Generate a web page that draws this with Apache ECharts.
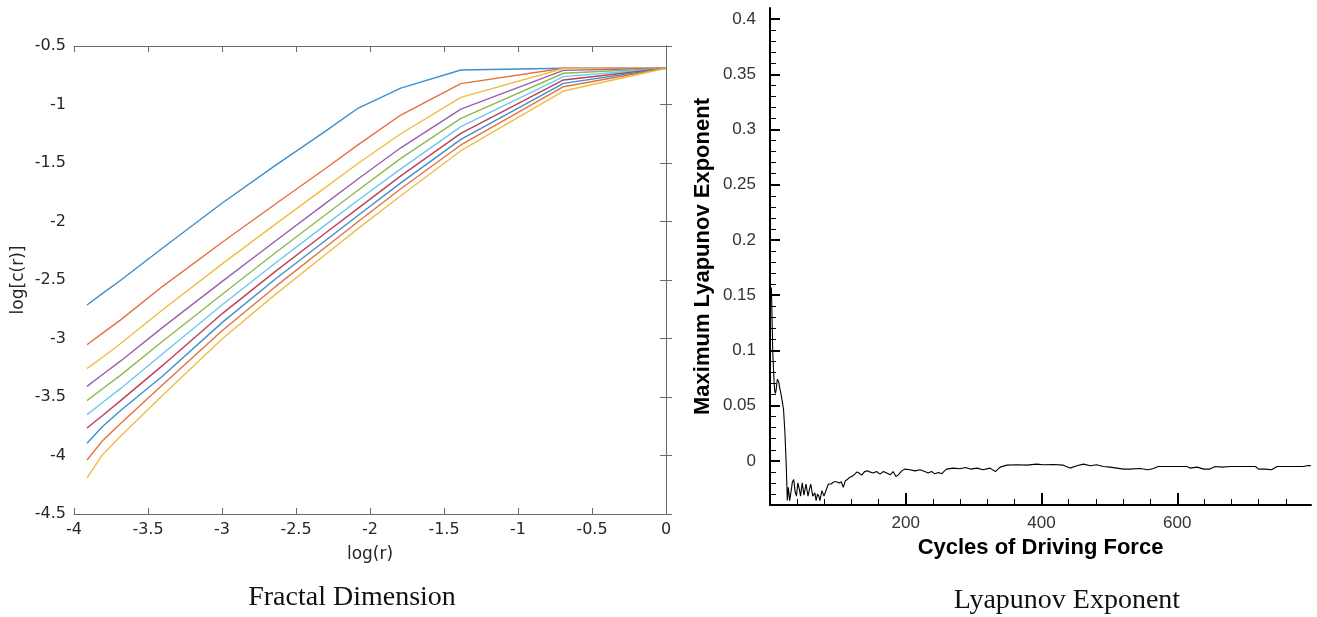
<!DOCTYPE html>
<html>
<head>
<meta charset="utf-8">
<script src="https://cdn.jsdelivr.net/npm/echarts@6/dist/echarts.min.js"></script>
<style>html,body{margin:0;padding:0;background:#fff}#c{width:1317px;height:617px}</style>
</head>
<body>
<div id="c"></div>
<script>
// ---- Fractal dimension data: log(r) vs log[c(r)] ----
const logR = [-3.912, -3.807, -3.689, -3.401, -2.996, -2.639, -2.303, -2.079, -1.792, -1.386, -0.693, 0];
const fd1  = [-2.714, -2.614, -2.506, -2.226, -1.840, -1.520, -1.230, -1.030, -0.860, -0.705, -0.690, -0.690];
const fd2  = [-3.053, -2.954, -2.845, -2.554, -2.175, -1.850, -1.549, -1.343, -1.090, -0.822, -0.690, -0.690];
const fd3  = [-3.258, -3.160, -3.047, -2.754, -2.360, -2.022, -1.710, -1.502, -1.250, -0.939, -0.692, -0.690];
const fd4  = [-3.409, -3.308, -3.196, -2.905, -2.510, -2.167, -1.847, -1.635, -1.370, -1.039, -0.708, -0.690];
const fd5  = [-3.531, -3.430, -3.317, -3.024, -2.620, -2.267, -1.944, -1.731, -1.460, -1.118, -0.733, -0.690];
const fd6  = [-3.651, -3.547, -3.431, -3.130, -2.710, -2.355, -2.031, -1.816, -1.550, -1.189, -0.762, -0.690];
const fd7  = [-3.765, -3.658, -3.535, -3.230, -2.785, -2.426, -2.101, -1.886, -1.610, -1.247, -0.790, -0.690];
const fd8  = [-3.896, -3.753, -3.620, -3.320, -2.860, -2.492, -2.164, -1.947, -1.670, -1.298, -0.819, -0.690];
const fd9  = [-4.038, -3.873, -3.730, -3.395, -2.930, -2.557, -2.222, -2.000, -1.720, -1.346, -0.848, -0.690];
const fd10 = [-4.192, -3.993, -3.840, -3.485, -3.000, -2.623, -2.284, -2.059, -1.780, -1.395, -0.885, -0.690];
const fdSeries = [fd1, fd2, fd3, fd4, fd5, fd6, fd7, fd8, fd9, fd10];
const fdColors = ['#3a90d0', '#e4703f', '#f0bc44', '#9a60ad', '#8cba52', '#6cc8f0', '#bb4058', '#3a90d0', '#e4703f', '#f0bc44'];

// ---- Lyapunov exponent data ----
const lyaCycles = [2,3,4,5,6,7,8,9,10,11,12,13,14,16,18,20,22,24,25.5,27,29,31,33,35,37,39,41,43,45,47.5,50,53,56,58,60,63,66,68,70,72,73.5,76.5,79.5,83,86,90,94,98,102,105,108,111,114,117,121,125,128,131,135,139,143,147,152,157,162,167,172,177,181.5,185.5,189,194,199,206,213.5,221,228,233,238,243,248,253,256,260,270,280,288,295,305,314,324,332,339,349,364,378,393,403,418,432,442,452,462,472,481,491,501,511,521,530,545,557,565,572,590,604,614,619,629,639,648,656,666,678,698,715,720,730,739,747,766,786,793,797];
const lyaValues = [0.157,0.130,0.100,0.085,0.072,0.063,0.061,0.064,0.070,0.074,0.073,0.071,0.067,0.061,0.054,0.046,0.025,-0.005,-0.036,-0.024,-0.036,-0.028,-0.019,-0.017,-0.028,-0.032,-0.020,-0.025,-0.032,-0.020,-0.031,-0.021,-0.032,-0.026,-0.021,-0.032,-0.029,-0.036,-0.030,-0.032,-0.036,-0.027,-0.032,-0.026,-0.021,-0.021,-0.019,-0.019,-0.020,-0.019,-0.024,-0.018,-0.017,-0.015,-0.014,-0.012,-0.010,-0.011,-0.013,-0.010,-0.009,-0.010,-0.011,-0.0097,-0.012,-0.0097,-0.011,-0.0127,-0.0097,-0.0142,-0.0127,-0.0091,-0.0075,-0.0081,-0.0091,-0.0081,-0.0097,-0.011,-0.0097,-0.0118,-0.0106,-0.0118,-0.0097,-0.0075,-0.0066,-0.0072,-0.006,-0.0075,-0.0066,-0.0081,-0.0066,-0.0097,-0.0057,-0.0039,-0.0036,-0.0039,-0.003,-0.0036,-0.0033,-0.0039,-0.0066,-0.0045,-0.003,-0.0045,-0.0036,-0.0051,-0.0057,-0.0066,-0.0075,-0.0075,-0.0069,-0.0081,-0.0069,-0.0051,-0.0051,-0.0051,-0.0051,-0.0066,-0.0057,-0.0075,-0.0075,-0.0051,-0.0057,-0.0051,-0.0051,-0.0051,-0.0075,-0.0075,-0.0081,-0.0051,-0.0051,-0.0051,-0.0042,-0.0045];
const lyaMajorY = [0, 0.05, 0.1, 0.15, 0.2, 0.25, 0.3, 0.35, 0.4];
const lyaMinorY = [-0.03,-0.02,-0.01,0.01,0.02,0.03,0.04,0.06,0.07,0.08,0.09,0.11,0.12,0.13,0.14,0.16,0.17,0.18,0.19,0.21,0.22,0.23,0.24,0.26,0.27,0.28,0.29,0.31,0.32,0.33,0.34,0.36,0.37,0.38,0.39];
const lyaMajorX = [200, 400, 600];
const lyaMinorX = [40, 80, 120, 160, 240, 280, 320, 360, 440, 480, 520, 560, 640, 680, 720, 760];

const chart = echarts.init(document.getElementById('c'), null, {renderer: 'canvas'});

const boxAxisLine = {show: true, lineStyle: {color: '#6a6a6a', width: 1}};
const leftLabel = {fontFamily: 'DejaVu Sans', fontSize: 16, color: '#262626'};
const rightLabel = {fontFamily: 'Liberation Sans', fontSize: 17, color: '#333'};

const series = fdSeries.map((s, i) => ({
  type: 'line', xAxisIndex: 0, yAxisIndex: 0,
  data: logR.map((x, j) => [x, s[j]]),
  showSymbol: false, symbol: 'none', animation: false,
  lineStyle: {color: fdColors[i], width: 1.4}, itemStyle: {color: fdColors[i]}
}));
series.push({
  type: 'line', xAxisIndex: 2, yAxisIndex: 2,
  data: lyaCycles.map((x, j) => [x, lyaValues[j]]),
  showSymbol: false, symbol: 'none', animation: false,
  lineStyle: {color: '#000', width: 1.1}
});

chart.setOption({
  animation: false,
  backgroundColor: '#fff',
  graphic: [
    {type: 'text', x: 352, y: 598, style: {text: 'Fractal Dimension', textAlign: 'center', textVerticalAlign: 'middle',
      font: '28px "Liberation Serif"', fill: '#111'}},
    {type: 'text', x: 1067, y: 601, style: {text: 'Lyapunov Exponent', textAlign: 'center', textVerticalAlign: 'middle',
      font: '28px "Liberation Serif"', fill: '#111'}}
  ],
  grid: [
    {left: 74, top: 46, width: 592, height: 468, containLabel: false},
    {left: 770, top: 8, width: 541, height: 497, containLabel: false}
  ],
  xAxis: [
    {type: 'value', gridIndex: 0, position: 'bottom', min: -4, max: 0, interval: 0.5,
     axisLine: boxAxisLine, axisTick: {inside: true, length: 6, lineStyle: {color: '#6a6a6a'}},
     axisLabel: Object.assign({margin: 8}, leftLabel), splitLine: {show: false},
     name: 'log(r)', nameLocation: 'middle', nameGap: 32,
     nameTextStyle: {fontFamily: 'DejaVu Sans', fontSize: 17, color: '#262626'}},
    {type: 'value', gridIndex: 0, position: 'top', min: -4, max: 0, interval: 0.5,
     axisLine: boxAxisLine, axisTick: {inside: true, length: 6, lineStyle: {color: '#6a6a6a'}},
     axisLabel: {show: false}, splitLine: {show: false}},
    {type: 'value', gridIndex: 1, position: 'bottom', min: 0, max: 797,
     axisLine: {show: true, onZero: false, lineStyle: {color: '#000', width: 2}},
     axisTick: {inside: true, length: 12, customValues: lyaMajorX, lineStyle: {color: '#000', width: 2}},
     axisLabel: Object.assign({margin: 10, customValues: lyaMajorX}, rightLabel),
     splitLine: {show: false},
     name: 'Cycles of Driving Force', nameLocation: 'middle', nameGap: 29,
     nameTextStyle: {fontFamily: 'Liberation Sans', fontSize: 22, fontWeight: 'bold', color: '#000'}},
    {type: 'value', gridIndex: 1, position: 'bottom', min: 0, max: 797,
     axisLine: {show: false, onZero: false},
     axisTick: {inside: true, length: 6, customValues: lyaMinorX, lineStyle: {color: '#000', width: 1}},
     axisLabel: {show: false}, splitLine: {show: false}}
  ],
  yAxis: [
    {type: 'value', gridIndex: 0, position: 'left', min: -4.5, max: -0.5, interval: 0.5,
     axisLine: boxAxisLine, axisTick: {inside: true, length: 6, lineStyle: {color: '#6a6a6a'}},
     axisLabel: Object.assign({margin: 8}, leftLabel), splitLine: {show: false},
     name: 'log[c(r)]', nameLocation: 'middle', nameGap: 47, nameRotate: 90,
     nameTextStyle: {fontFamily: 'DejaVu Sans', fontSize: 17, color: '#262626'}},
    {type: 'value', gridIndex: 0, position: 'right', min: -4.5, max: -0.5, interval: 0.5,
     axisLine: boxAxisLine, axisTick: {inside: true, length: 6, lineStyle: {color: '#6a6a6a'}},
     axisLabel: {show: false}, splitLine: {show: false}},
    {type: 'value', gridIndex: 1, position: 'left', min: -0.04, max: 0.41,
     axisLine: {show: true, onZero: false, lineStyle: {color: '#000', width: 2}},
     axisTick: {inside: true, length: 10, customValues: lyaMajorY, lineStyle: {color: '#000', width: 2}},
     axisLabel: Object.assign({margin: 14, customValues: lyaMajorY, formatter: v => String(+(+v).toFixed(2))}, rightLabel),
     splitLine: {show: false},
     name: 'Maximum Lyapunov Exponent', nameLocation: 'middle', nameGap: 56, nameRotate: 90,
     nameTextStyle: {fontFamily: 'Liberation Sans', fontSize: 22, fontWeight: 'bold', color: '#000'}},
    {type: 'value', gridIndex: 1, position: 'left', min: -0.04, max: 0.41,
     axisLine: {show: false, onZero: false},
     axisTick: {inside: true, length: 6, customValues: lyaMinorY, lineStyle: {color: '#000', width: 1}},
     axisLabel: {show: false}, splitLine: {show: false}}
  ],
  series: series
});
</script>
</body>
</html>
